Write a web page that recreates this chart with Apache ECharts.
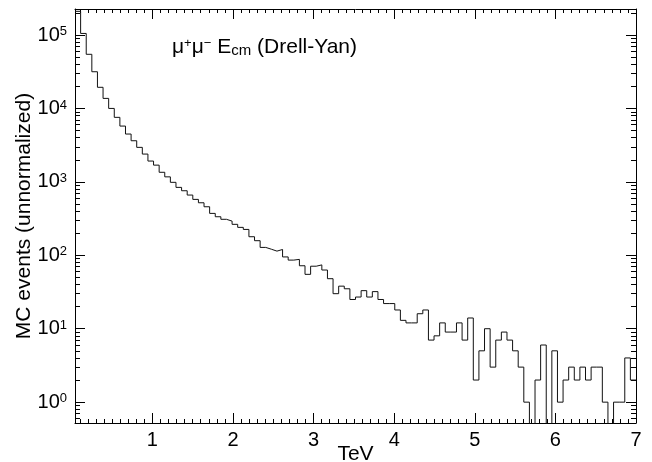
<!DOCTYPE html>
<html><head><meta charset="utf-8">
<script src="https://cdn.jsdelivr.net/npm/echarts@6/dist/echarts.min.js"></script>
<style>html,body{margin:0;padding:0;background:#fff}#c{width:652px;height:462px}</style>
</head><body><div id="c"></div>
<script>
// Histogram definition: 100 bins starting at binStart, each binWidth TeV wide
const binStart = 0.04;
const binWidth = 0.0696;
const counts = [
  210000, 105000, 54600, 31600, 19400, 13700, 10000, 7560, 5750, 4480,
  3630, 2950, 2390, 1920, 1690, 1350, 1170, 985, 841, 757,
  661, 577, 519, 458, 372, 335, 309, 292, 264, 240,
  225, 179, 158, 128, 121, 114, 120, 95, 86, 88,
  72, 55, 71, 74, 63, 48, 30, 38, 35, 25,
  27, 33, 27, 32, 25, 22, 22, 18, 13, 12,
  12, 16, 18, 7, 8, 12, 9, 9, 12, 7,
  14, 2, 5, 10, 3, 7, 9, 7, 5, 3,
  1, 0, 2, 6, 0, 5, 1, 2, 3, 2,
  3, 2, 3, 3, 1, 0, 1, 1, 4, 2
];
const xTickValues = [1, 2, 3, 4, 5, 6, 7];
const yTickValues = [1, 10, 100, 1000, 10000, 100000];
const xRange = [0.04, 7];
const yRange = [0.52, 226000];
const xName = 'TeV';
const yName = 'MC events (unnormalized)';

// empty bins drawn at a floor value below the visible axis range (clipped)
const ZERO_FLOOR = 0.01;
const pts = counts.map((c, k) => [binStart + k * binWidth, c > 0 ? c : ZERO_FLOOR]);
pts.push([binStart + counts.length * binWidth, counts[counts.length - 1] > 0 ? counts[counts.length - 1] : ZERO_FLOOR]);

const xMinor = [];
for (let i = 1; i < 70; i++) if (i % 10 !== 0) xMinor.push(i / 10);
const yMinor = [];
for (let n = -1; n <= 5; n++) for (let m = 2; m <= 9; m++) {
  const v = m * Math.pow(10, n);
  if (v > yRange[0] && v < yRange[1]) yMinor.push(v);
}

const FONT = 'Liberation Sans';
const black = '#000';

function xAxis(position, ticks, len, line, labels) {
  return {
    type: 'value', position: position, min: xRange[0], max: xRange[1],
    axisLine: { show: line, onZero: false, lineStyle: { color: black, width: 1 } },
    axisTick: { show: true, inside: true, length: len, customValues: ticks, lineStyle: { color: black, width: 1 } },
    axisLabel: labels ? {
      show: true, customValues: xTickValues, color: black, fontSize: 20, fontFamily: FONT, margin: 7,
      formatter: v => String(Math.round(v))
    } : { show: false },
    splitLine: { show: false },
    name: labels ? xName : '', nameLocation: 'middle', nameGap: 21, nameMoveOverlap: false,
    nameTextStyle: { color: black, fontSize: 21, fontFamily: FONT, verticalAlign: 'top' }
  };
}
function yAxis(position, ticks, len, line, labels) {
  return {
    type: 'log', logBase: 10, position: position, min: yRange[0], max: yRange[1],
    axisLine: { show: line, onZero: false, lineStyle: { color: black, width: 1 } },
    axisTick: { show: true, inside: true, length: len, customValues: ticks, lineStyle: { color: black, width: 1 } },
    axisLabel: labels ? {
      show: true, customValues: yTickValues, margin: 8, align: 'right',
      formatter: v => '{b|10}{s|' + Math.round(Math.log10(v)) + '}',
      rich: {
        b: { fontSize: 20, fontFamily: FONT, color: black },
        s: { fontSize: 13, fontFamily: FONT, color: black, verticalAlign: 'top' }
      }
    } : { show: false },
    splitLine: { show: false },
    name: labels ? yName : '', nameLocation: 'middle', nameGap: 40, nameMoveOverlap: false,
    nameTextStyle: { color: black, fontSize: 21, fontFamily: FONT }
  };
}

const chart = echarts.init(document.getElementById('c'), null, { renderer: 'canvas' });
chart.setOption({
  animation: false,
  backgroundColor: '#fff',
  grid: { left: 75, right: 16, top: 9, bottom: 39, containLabel: false, outerBoundsMode: 'none' },
  xAxis: [
    xAxis('bottom', xTickValues, 10, true, true),
    xAxis('bottom', xMinor, 4, false, false),
    xAxis('top', xTickValues, 10, true, false),
    xAxis('top', xMinor, 4, false, false)
  ],
  yAxis: [
    yAxis('left', yTickValues, 10, true, true),
    yAxis('left', yMinor, 5, false, false),
    yAxis('right', yTickValues, 10, true, false),
    yAxis('right', yMinor, 5, false, false)
  ],
  graphic: [{
    type: 'text', left: 172, top: 37,
    style: {
      text: '{t|μ}{p|+}{t|μ}{p|−}{t| E}{d|cm}{t| (Drell-Yan)}',
      rich: {
        t: { fontSize: 21, fontFamily: FONT, fill: black },
        p: { fontSize: 13, fontFamily: FONT, fill: black, verticalAlign: 'top' },
        d: { fontSize: 15, fontFamily: FONT, fill: black, verticalAlign: 'bottom' }
      }
    }
  }],
  series: [{
    type: 'line', xAxisIndex: 0, yAxisIndex: 0,
    step: 'end', showSymbol: false, symbol: 'none', clip: true,
    lineStyle: { color: '#111', width: 1 },
    data: pts
  }]
});
</script></body></html>
